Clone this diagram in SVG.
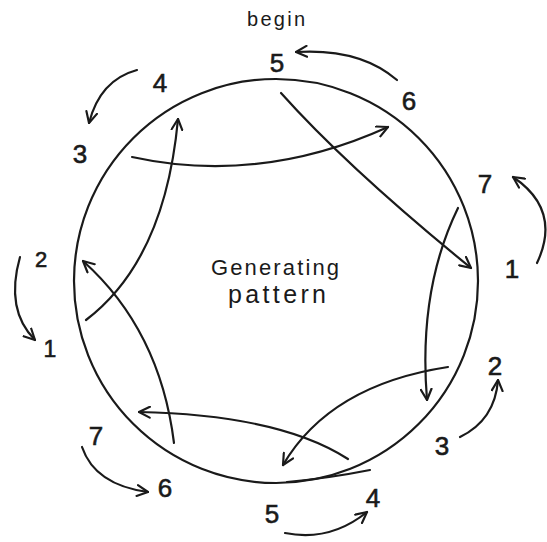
<svg xmlns="http://www.w3.org/2000/svg" width="547" height="542" viewBox="0 0 547 542">
<defs>
<style>
.ln{fill:none;stroke:#1a1a1a;stroke-width:2.2;stroke-linecap:round}
.ar{fill:none;stroke:#1a1a1a;stroke-width:2.2;stroke-linecap:round;marker-end:url(#v)}
.num{font-family:"Liberation Sans",Arial,sans-serif;font-size:26px;fill:#1a1a1a;stroke:#1a1a1a;stroke-width:0.6;text-anchor:middle}
.lbl{font-family:"Liberation Sans",Arial,sans-serif;font-size:22px;fill:#1a1a1a;text-anchor:middle}
</style>
<marker id="v" viewBox="0 0 12 12" refX="11" refY="6" markerWidth="13" markerHeight="13" markerUnits="userSpaceOnUse" orient="auto">
<path d="M1,1 L11,6 L1,11" fill="none" stroke="#1a1a1a" stroke-width="2" stroke-linecap="round" stroke-linejoin="round"/>
</marker>
</defs>
<rect width="547" height="542" fill="#ffffff"/>
<g id="circle">
<circle cx="276" cy="281" r="202" class="ln"/>
<path d="M287,482 Q330,478 370,470" class="ln"/>
</g>
<g id="title">
<text x="275" y="275" class="lbl" textLength="128" lengthAdjust="spacing">Generating</text>
<text x="277" y="303" class="lbl" style="font-size:25px" textLength="98" lengthAdjust="spacing">pattern</text>
<text x="276" y="26" class="lbl" style="font-size:20px" textLength="58" lengthAdjust="spacing">begin</text>
</g>
<g id="n-5top"><text x="277" y="72" class="num">5</text></g>
<g id="n-6top"><text x="409" y="110" class="num">6</text></g>
<g id="n-7right"><text x="485" y="193" class="num">7</text></g>
<g id="n-1right"><text x="512" y="278" class="num">1</text></g>
<g id="n-2right"><text x="495" y="375" class="num">2</text></g>
<g id="n-3right"><text x="442" y="455" class="num">3</text></g>
<g id="n-4bottom"><text x="373" y="507" class="num">4</text></g>
<g id="n-5bottom"><text x="272" y="523" class="num">5</text></g>
<g id="n-6bottom"><text x="165" y="497" class="num">6</text></g>
<g id="n-7left"><text x="96" y="445" class="num">7</text></g>
<g id="n-1left"><text x="50" y="357" class="num" style="font-size:23px">1</text></g>
<g id="n-2left"><text x="41" y="267" class="num" style="font-size:22px">2</text></g>
<g id="n-3left"><text x="80" y="163" class="num">3</text></g>
<g id="n-4left"><text x="160" y="92" class="num">4</text></g>
<g id="connectors">
<path d="M397,80 Q360,48 296,52" class="ar"/>
<path d="M137,70 Q100,80 89,123" class="ar"/>
<path d="M537,263 Q562,210 513,177" class="ar"/>
<path d="M20,257 Q5,310 35,340" class="ar"/>
<path d="M460,437 Q495,420 498,380" class="ar"/>
<path d="M285,533 Q330,542 367,512" class="ar"/>
<path d="M82,447 Q95,485 148,492" class="ar"/>
<path d="M281,93 Q348,168 471,268" class="ar"/>
<path d="M458,208 Q418,290 427,400" class="ar"/>
<path d="M348,459 Q280,415 139,412" class="ar"/>
<path d="M448,367 Q330,385 283,465" class="ar"/>
<path d="M174,443 Q160,330 83,261" class="ar"/>
<path d="M86,320 Q165,260 178,119" class="ar"/>
<path d="M132,157 Q260,185 388,127" class="ar"/>
</g>
</svg>
